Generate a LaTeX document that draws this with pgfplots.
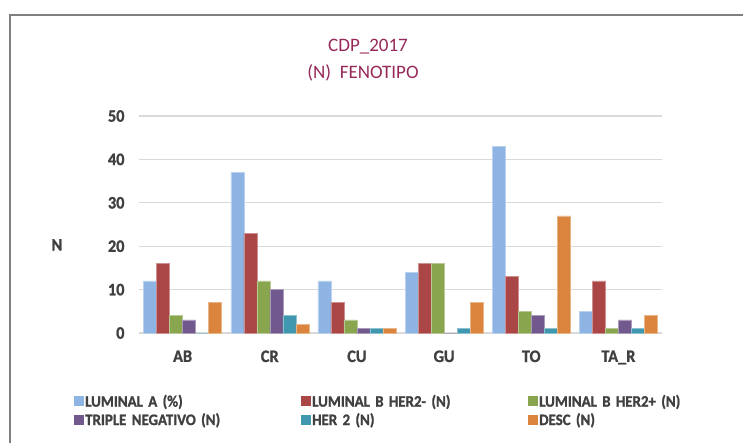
\documentclass[border=0pt]{standalone}
\usepackage{pgfplots}
\pgfplotsset{compat=1.18}
\usepackage{fontspec}
\setmainfont{Carlito}[FakeStretch=0.93, BoldFeatures={FakeBold=1.2}]
\newfontfamily\titlefont{Carlito}
\definecolor{cA}{RGB}{142,180,227}
\definecolor{cB}{RGB}{170,70,69}
\definecolor{cC}{RGB}{137,165,78}
\definecolor{cD}{RGB}{113,89,142}
\definecolor{cE}{RGB}{64,151,176}
\definecolor{cF}{RGB}{219,132,61}
\definecolor{titlec}{RGB}{150,40,90}
\definecolor{gridc}{RGB}{217,217,217}
\definecolor{labc}{RGB}{64,64,64}
\begin{document}
\begin{tikzpicture}[x=1pt,y=1pt]
\useasboundingbox (0,0) rectangle (743,442);
\draw[color={rgb,255:red,128;green,128;blue,128}, line width=1.3pt] (10,-5) -- (10,427) -- (750,427);
\node[font=\titlefont\fontsize{19}{23}\selectfont, text=titlec] at (368,395) {CDP\_2017};
\node[font=\titlefont\fontsize{19}{23}\selectfont, text=titlec] at (363,369) {(N)\ \ FENOTIPO};
\begin{axis}[
  at={(139pt,109pt)}, anchor=south west,
  scale only axis, width=523pt, height=217pt,
  ybar=0pt, bar width=13pt,
  xmin=-0.5, xmax=5.5, ymin=0, ymax=50,
  ytick={0,10,...,50},
  xtick={0,...,5},
  xticklabels={AB,CR,CU,GU,TO,TA\_R},
  axis line style={draw=none},
  major tick length=0pt,
  ymajorgrids, grid style={gridc, line width=1.3pt},
  /pgf/number format/assume math mode=true,
  ticklabel style={font=\fontsize{17.5}{20}\selectfont\bfseries, text=labc},
  yticklabel style={xshift=-11pt},
  xticklabel style={yshift=-14pt},
  legend image code/.code={\fill[#1, draw=none] (0pt,-5pt) rectangle (10pt,5pt);},
  legend style={at={(axis description cs:-0.13,-0.27)}, anchor=north west,
    draw=none, fill=none, legend columns=3,
    font=\fontsize{16}{19}\selectfont\bfseries, text=labc,
    nodes={text width=215pt, inner sep=1pt},
    row sep=3pt},
  legend cell align=left,
  clip=false,
]
\addplot[fill=cA, draw=cA!60!white, line width=0.4pt] coordinates {(0,12) (1,37) (2,12) (3,14) (4,43) (5,5)};
\addplot[fill=cB, draw=cB!60!white, line width=0.4pt] coordinates {(0,16) (1,23) (2,7) (3,16) (4,13) (5,12)};
\addplot[fill=cC, draw=cC!60!white, line width=0.4pt] coordinates {(0,4) (1,12) (2,3) (3,16) (4,5) (5,1)};
\addplot[fill=cD, draw=cD!60!white, line width=0.4pt] coordinates {(0,3) (1,10) (2,1) (3,0) (4,4) (5,3)};
\addplot[fill=cE, draw=cE!60!white, line width=0.4pt] coordinates {(0,0) (1,4) (2,1) (3,1) (4,1) (5,1)};
\addplot[fill=cF, draw=cF!60!white, line width=0.4pt] coordinates {(0,7) (1,2) (2,1) (3,7) (4,27) (5,4)};
\legend{LUMINAL A (\%), LUMINAL B HER2- (N), LUMINAL B HER2+ (N), TRIPLE NEGATIVO (N), HER 2 (N), DESC (N)}
\node[font=\fontsize{17.5}{20}\selectfont\bfseries, text=labc] at (rel axis cs:-0.157,0.406) {N};
\end{axis}
\end{tikzpicture}
\end{document}
